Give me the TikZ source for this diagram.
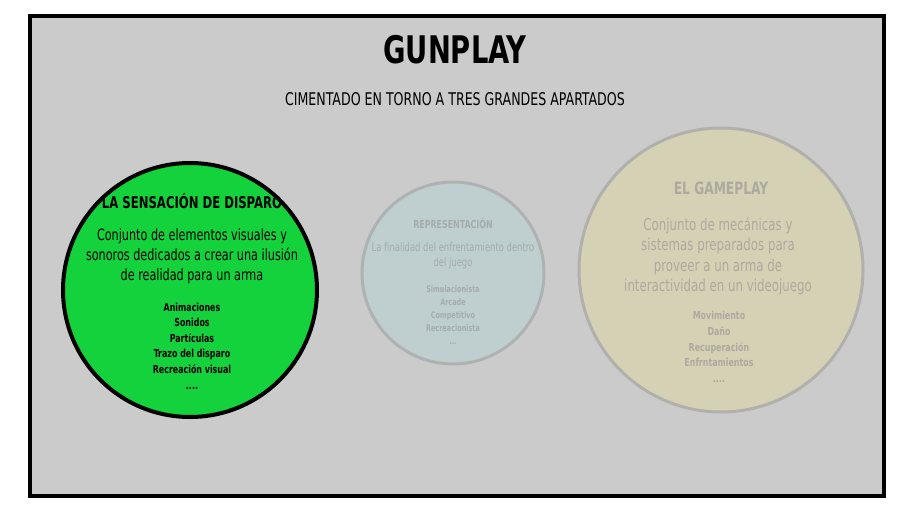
\documentclass[tikz,border=0pt]{standalone}
\usepackage{fontspec}
\setmainfont[FakeStretch=0.8]{DejaVu Sans Condensed}
\begin{document}
\begin{tikzpicture}[x=1pt,y=-1pt,
  txt/.style={align=center,inner sep=0pt},
  lst/.style={txt,font=\bfseries\fontsize{11}{15.6}\selectfont}]
\useasboundingbox (0,0) rectangle (914,514);
\fill[white] (0,0) rectangle (914,514);
\draw[line width=4pt,fill={rgb,255:red,203;green,203;blue,203}] (30,16) rectangle (884,496);
\node[txt,font=\bfseries\fontsize{38}{38}\selectfont] (title) at (455,50) {GUNPLAY};
\node[txt,font=\fontsize{17.5}{20}\selectfont] (sub) at (455,99) {CIMENTADO EN TORNO A TRES GRANDES APARTADOS};
% green
\draw[line width=4pt,fill={rgb,255:red,20;green,210;blue,60}] (190,290) circle (127);
\node[txt,font=\bfseries\fontsize{16.2}{20}\selectfont] (g1) at (192,201) {LA SENSACIÓN DE DISPARO};
\node[txt,font=\fontsize{15.6}{20}\selectfont] (g2) at (192,256) {Conjunto de elementos visuales y\\sonoros dedicados a crear una ilusión\\de realidad para un arma};
\node[txt,lst] (g3) at (192,346) {Animaciones\\Sonidos\\Partículas\\Trazo del disparo\\Recreación visual\\....};
% middle
\draw[line width=3pt,draw={rgb,255:red,175;green,178;blue,178},fill={rgb,255:red,191;green,206;blue,206}] (453,273) circle (91);
\begin{scope}[text={rgb,255:red,165;green,172;blue,172}]
\node[txt,font=\bfseries\fontsize{11}{12}\selectfont] (m1) at (453,223) {REPRESENTACIÓN};
\node[txt,font=\fontsize{11.7}{15}\selectfont] (m2) at (453,256) {La finalidad del enfrentamiento dentro\\del juego};
\node[txt,font=\bfseries\fontsize{9}{13}\selectfont] (m3) at (453,315) {Simulacionista\\Arcade\\Competitivo\\Recreacionista\\...};
\end{scope}
% right
\draw[line width=3pt,draw={rgb,255:red,178;green,176;blue,172},fill={rgb,255:red,213;green,209;blue,180}] (721,270) circle (142);
\begin{scope}[text={rgb,255:red,172;green,170;blue,160}]
\node[txt,font=\bfseries\fontsize{17}{20}\selectfont] (r1) at (721,188) {EL GAMEPLAY};
\node[txt,font=\fontsize{16.4}{20.5}\selectfont] (r2) at (718,256) {Conjunto de mecánicas y\\sistemas preparados para\\proveer a un arma de\\interactividad en un videojuego};
\node[txt,lst] (r3) at (719,347) {Movimiento\\Daño\\Recuperación\\Enfrntamientos\\....};
\end{scope}
\end{tikzpicture}
\end{document}
